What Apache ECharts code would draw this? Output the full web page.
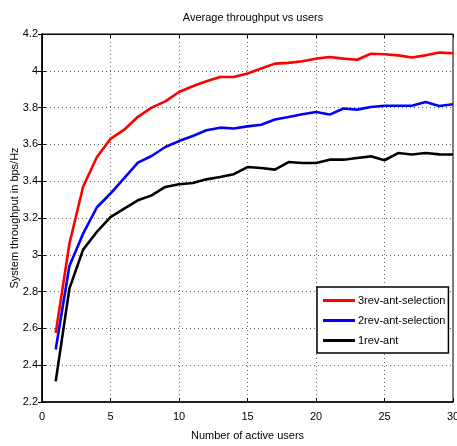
<!DOCTYPE html>
<html>
<head>
<meta charset="utf-8">
<script src="https://cdn.jsdelivr.net/npm/echarts@6/dist/echarts.min.js"></script>
<style>
  html, body { margin: 0; padding: 0; background: #fff; }
  #main { width: 457px; height: 446px; }
</style>
</head>
<body>
<div id="main"></div>
<script>
const users = [1, 2, 3, 4, 5, 6, 7, 8, 9, 10, 11, 12, 13, 14, 15, 16, 17, 18, 19, 20, 21, 22, 23, 24, 25, 26, 27, 28, 29, 30];
const rev3 = [2.575, 3.06, 3.37, 3.53, 3.63, 3.68, 3.75, 3.80, 3.834, 3.885, 3.916, 3.943, 3.966, 3.966, 3.985, 4.012, 4.039, 4.043, 4.052, 4.066, 4.075, 4.066, 4.06, 4.093, 4.09, 4.084, 4.072, 4.084, 4.099, 4.095];
const rev2 = [2.485, 2.939, 3.115, 3.257, 3.333, 3.417, 3.501, 3.537, 3.586, 3.618, 3.646, 3.677, 3.691, 3.686, 3.698, 3.707, 3.735, 3.749, 3.764, 3.776, 3.762, 3.795, 3.789, 3.803, 3.81, 3.81, 3.81, 3.83, 3.809, 3.818];
const rev1 = [2.312, 2.816, 3.028, 3.124, 3.205, 3.251, 3.296, 3.323, 3.369, 3.383, 3.39, 3.41, 3.423, 3.438, 3.477, 3.472, 3.463, 3.504, 3.499, 3.499, 3.517, 3.517, 3.526, 3.535, 3.514, 3.553, 3.545, 3.553, 3.546, 3.545];
const seriesNames = ["3rev-ant-selection", "2rev-ant-selection", "1rev-ant"];

const font = "'Liberation Sans', Arial, sans-serif";
const gridLine = { show: true, lineStyle: { color: "#666", type: [1, 3], width: 1 } };
const tick = { show: true, inside: true, length: 4, lineStyle: { color: "#000" } };

function pairs(ys) {
  return users.map((u, i) => [u, ys[i]]);
}

const myChart = echarts.init(document.getElementById("main"));
const option = {
  backgroundColor: "#fff",
  animation: false,
  textStyle: { fontFamily: font },
  title: {
    text: "Average throughput vs users",
    left: 248,
    textAlign: "center",
    top: 7,
    textStyle: { fontFamily: font, fontSize: 11, fontWeight: "normal", color: "#000" }
  },
  grid: {
    left: 42,
    right: 4,
    top: 34,
    bottom: 44,
    containLabel: false,
    outerBoundsMode: "none",
    show: true,
    borderColor: "#000",
    borderWidth: 1
  },
  legend: {
    data: seriesNames,
    orient: "vertical",
    left: 317,
    top: 287,
    padding: [8, 3, 7, 6],
    itemGap: 9,
    itemWidth: 32,
    itemHeight: 3,
    icon: "rect",
    backgroundColor: "#fff",
    borderColor: "#000",
    borderWidth: 1.5,
    textStyle: { fontFamily: font, fontSize: 11, color: "#000", padding: [0, 0, 0, -2] }
  },
  xAxis: [
    {
      type: "value",
      min: 0,
      max: 30,
      interval: 5,
      name: "Number of active users",
      nameLocation: "middle",
      nameGap: 28,
      nameMoveOverlap: false,
      nameTextStyle: { fontFamily: font, fontSize: 11, color: "#000" },
      axisLine: { show: true, lineStyle: { color: "#000", width: 1.5 } },
      axisTick: tick,
      axisLabel: { color: "#000", fontSize: 11, fontFamily: font, margin: 9 },
      splitLine: gridLine
    },
    {
      type: "value",
      position: "top",
      min: 0,
      max: 30,
      interval: 5,
      axisLine: { show: true, lineStyle: { color: "#000" } },
      axisTick: tick,
      axisLabel: { show: false },
      splitLine: { show: false }
    }
  ],
  yAxis: [
    {
      type: "value",
      min: 2.2,
      max: 4.2,
      interval: 0.2,
      name: "System throughput in bps/Hz",
      nameLocation: "middle",
      nameGap: 22,
      nameMoveOverlap: false,
      nameTextStyle: { fontFamily: font, fontSize: 11, color: "#000" },
      axisLine: { show: true, lineStyle: { color: "#000", width: 1.5 } },
      axisTick: tick,
      axisLabel: {
        color: "#000",
        fontSize: 11,
        fontFamily: font,
        margin: 4,
        formatter: v => String(+v.toFixed(1))
      },
      splitLine: gridLine
    },
    {
      type: "value",
      position: "right",
      min: 2.2,
      max: 4.2,
      interval: 0.2,
      axisLine: { show: true, lineStyle: { color: "#000" } },
      axisTick: tick,
      axisLabel: { show: false },
      splitLine: { show: false }
    }
  ],
  series: [
    {
      name: seriesNames[0],
      type: "line",
      data: pairs(rev3),
      showSymbol: false,
      color: "#ff0000",
      lineStyle: { width: 2.6, color: "#ff0000" }
    },
    {
      name: seriesNames[1],
      type: "line",
      data: pairs(rev2),
      showSymbol: false,
      color: "#0000ff",
      lineStyle: { width: 2.6, color: "#0000ff" }
    },
    {
      name: seriesNames[2],
      type: "line",
      data: pairs(rev1),
      showSymbol: false,
      color: "#000000",
      lineStyle: { width: 2.6, color: "#000000" }
    }
  ]
};

option && myChart.setOption(option);
</script>
</body>
</html>
